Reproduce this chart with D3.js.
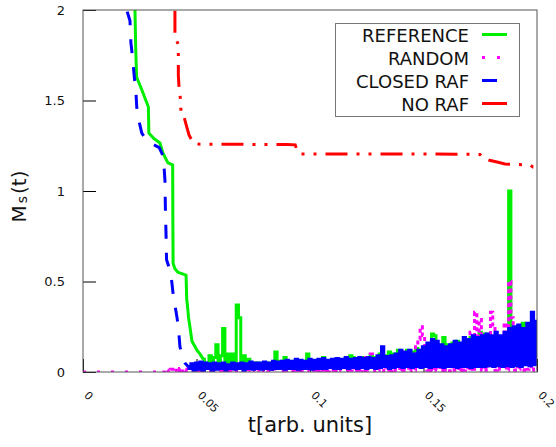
<!DOCTYPE html>
<html><head><meta charset="utf-8">
<script src="https://cdn.jsdelivr.net/npm/d3@7"></script>
<style>body{margin:0;background:#fff}svg{display:block}</style>
</head><body>
<svg id="c" width="556" height="447"></svg>
<script>
// ---------- data ----------
const seriesNames = ["REFERENCE", "RANDOM", "CLOSED RAF", "NO RAF"];
const seriesColors = ["#00ee00", "#ff00ff", "#0000ff", "#ff0000"];
const xTickValues = [0, 0.05, 0.1, 0.15, 0.2];
const xTickLabels = ["0", "0.05", "0.1", "0.15", "0.2"];
const yTickValues = [0, 0.5, 1, 1.5, 2];
const yTickLabels = ["0", "0.5", "1", "1.5", "2"];
const noiseStep = 0.001;

// REFERENCE (green)
const refHeadT = [0.0225,0.0229,0.0232,0.0236,0.0262,0.0288,0.0289,0.0290,0.0312,0.0339,0.0352,0.0374,0.0395,0.0396,0.0397,0.0405,0.0419,0.0454,0.0457,0.0460,0.0465,0.0471,0.0480,0.0489,0.0502,0.0515,0.0530];
const refHeadY = [2.3,2.0,1.80,1.63,1.55,1.464,1.40,1.32,1.29,1.265,1.21,1.155,1.144,0.80,0.60,0.57,0.55,0.535,0.40,0.37,0.30,0.25,0.17,0.15,0.12,0.10,0.07];
const refNoiseStart = 0.054;
const refNoiseY = [
0.05,0.02,0.09,0.03,0.08,0.15,0.04,0.09,0.24,0.05,0.10,0.04,0.10,0.05,0.37,0.30,0.06,0.09,0.04,0.07,
0.03,0.05,0.02,0.05,0.03,0.045,0.02,0.05,0.03,0.05,0.04,0.11,0.03,0.06,0.04,0.08,0.03,0.05,0.04,0.06,
0.03,0.05,0.04,0.06,0.03,0.10,0.04,0.06,0.03,0.06,0.04,0.05,0.08,0.04,0.06,0.03,0.06,0.04,0.07,0.04,
0.06,0.03,0.07,0.04,0.09,0.08,0.04,0.07,0.03,0.08,0.04,0.07,0.05,0.09,0.04,0.08,0.05,0.10,0.04,0.09,
0.05,0.11,0.04,0.10,0.05,0.12,0.05,0.10,0.06,0.12,0.05,0.11,0.06,0.13,0.05,0.12,0.06,0.14,0.05,0.15,
0.21,0.20,0.06,0.14,0.05,0.19,0.06,0.15,0.05,0.16,0.07,0.17,0.06,0.15,0.07,0.16,0.06,0.19,0.07,0.16,
0.06,0.22,0.07,0.21,0.06,0.18,0.08,0.17,0.06,0.19,0.07,0.18,0.08,0.16,1.00,0.10,0.07,0.20,0.06,0.21,
0.27,0.08,0.20,0.23,0.07,0.22,0.05];

// RANDOM (magenta)
const rndHeadT = [0, 0.010, 0.020, 0.030, 0.035];
const rndHeadY = [0, 0, 0, 0, 0];
const rndNoiseStart = 0.036;
const rndNoiseY = [
0,0.01,0,0.015,0.005,0.01,0,0.02,0.005,0.015,
0.005,0.02,0.005,0.015,0.01,0.02,0.005,0.02,0.01,0.025,
0.005,0.02,0.01,0.025,0.005,0.02,0.01,0.03,0.005,0.025,
0.01,0.03,0.005,0.025,0.01,0.03,0.005,0.03,0.01,0.035,
0.005,0.03,0.01,0.035,0.005,0.03,0.01,0.04,0.005,0.035,
0.01,0.04,0.005,0.04,0.01,0.045,0.005,0.04,0.01,0.05,
0.005,0.045,0.01,0.05,0.005,0.045,0.01,0.055,0.005,0.05,
0.01,0.055,0.005,0.05,0.01,0.06,0.005,0.055,0.01,0.06,
0.005,0.06,0.01,0.065,0.005,0.06,0.01,0.07,0.005,0.08,
0.01,0.10,0.005,0.07,0.01,0.075,0.005,0.07,0.01,0.08,
0.005,0.075,0.01,0.08,0.005,0.085,0.01,0.08,0.005,0.09,
0.01,0.14,0.18,0.25,0.20,0.09,0.01,0.10,0.005,0.11,
0.01,0.10,0.005,0.12,0.01,0.11,0.005,0.13,0.01,0.12,
0.005,0.14,0.01,0.18,0.01,0.22,0.015,0.33,0.20,0.29,
0.01,0.15,0.01,0.18,0.33,0.26,0.01,0.14,0.015,0.16,
0.27,0.01,0.50,0.30,0.01,0.13,0.015,0.14,0.01,0.12,
0.015,0.11,0.01,0.10,0.02];

// CLOSED RAF (blue)
const crHeadT = [0.01894,0.01925,0.0207,0.0211,0.0219,0.0226,0.0233,0.0237,0.0244,0.0259,0.0281,0.0304,0.0336,0.0354,0.0361,0.0363,0.0366,0.0368,0.0376,0.0391,0.0398,0.0413,0.0420,0.0427,0.0439,0.0449,0.0463];
const crHeadY = [2.3,2.0,1.94,1.82,1.73,1.63,1.55,1.46,1.40,1.32,1.28,1.26,1.24,1.19,1.06,0.90,0.75,0.62,0.59,0.50,0.42,0.31,0.25,0.14,0.08,0.05,0.03];
const crNoiseStart = 0.047;
const crNoiseY = [
0.02,0.045,0.01,0.05,0.015,0.055,0.01,0.05,0.02,0.045,
0.01,0.05,0.015,0.045,0.02,0.05,0.01,0.04,0.02,0.05,
0.015,0.045,0.02,0.05,0.01,0.045,0.02,0.055,0.015,0.05,
0.02,0.05,0.015,0.055,0.02,0.05,0.015,0.06,0.02,0.055,
0.02,0.06,0.015,0.065,0.02,0.06,0.02,0.07,0.015,0.065,
0.02,0.06,0.02,0.07,0.015,0.065,0.02,0.07,0.02,0.075,
0.02,0.065,0.025,0.07,0.02,0.075,0.02,0.07,0.025,0.08,
0.02,0.07,0.025,0.075,0.02,0.08,0.025,0.075,0.02,0.08,
0.025,0.075,0.02,0.09,0.025,0.14,0.03,0.085,0.02,0.09,
0.025,0.10,0.03,0.12,0.025,0.11,0.03,0.12,0.025,0.10,
0.03,0.12,0.025,0.14,0.03,0.16,0.025,0.18,0.03,0.17,
0.03,0.15,0.025,0.14,0.03,0.15,0.03,0.17,0.025,0.16,
0.03,0.19,0.03,0.18,0.025,0.20,0.03,0.19,0.03,0.20,
0.03,0.21,0.035,0.20,0.03,0.22,0.035,0.20,0.03,0.22,
0.035,0.24,0.03,0.25,0.035,0.26,0.03,0.24,0.04,0.27,
0.035,0.33,0.04,0.28];

// NO RAF (red)
const nrT = [0.0404,0.0405,0.0405,0.0420,0.0420,0.0423,0.0430,0.0432,0.0445,0.0457,0.0467,0.0485,0.0515,0.0600,0.0700,0.0800,0.0900,0.0935,0.0945,0.0955,0.1100,0.1300,0.1500,0.1650,0.1749,0.1762,0.1790,0.1824,0.1859,0.1969,0.1982,0.2000];
const nrY = [2.3,2.0,1.85,1.81,1.64,1.575,1.50,1.42,1.41,1.354,1.31,1.265,1.258,1.258,1.258,1.257,1.257,1.255,1.215,1.205,1.205,1.205,1.205,1.203,1.202,1.182,1.170,1.160,1.149,1.144,1.133,1.133];

// ---------- drawing ----------
const svg = d3.select("#c");
const L = 83, T = 10, R = 537, B = 372;
const x = d3.scaleLinear().domain([0, 0.2]).range([L, R]);
const y = d3.scaleLinear().domain([0, 2]).range([B, T]);
const font = "DejaVu Sans, Verdana, sans-serif";

const pairs = (ts, ys) => ts.map((t, i) => [t, ys[i]]);
const noise = (start, ys) => ys.map((v, i) => [start + i * noiseStep, v]);
const line = d3.line().x(d => x(d[0])).y(d => y(d[1]));
const stepLine = d3.line().x(d => x(d[0])).y(d => y(d[1])).curve(d3.curveStep);

svg.append("defs").append("clipPath").attr("id", "clip")
  .append("rect").attr("x", L).attr("y", T).attr("width", R - L).attr("height", B - T);

// axes
const yAx = svg.append("g").attr("transform", `translate(${L},0)`)
  .call(d3.axisLeft(y).tickValues(yTickValues).tickFormat((d, i) => yTickLabels[i]).tickSize(-13).tickPadding(18));
yAx.select(".domain").remove();
yAx.selectAll("text").attr("font-family", font).attr("font-size", 13).attr("fill", "#111");
yAx.selectAll("line").attr("stroke", "#000");

const xAx = svg.append("g").attr("transform", `translate(0,${B})`)
  .call(d3.axisBottom(x).tickValues(xTickValues).tickFormat((d, i) => xTickLabels[i]).tickSize(-13));
xAx.select(".domain").remove();
xAx.selectAll("line").attr("stroke", "#000");
xAx.selectAll("text").attr("font-family", font).attr("font-size", 11).attr("fill", "#111")
  .attr("y", 0).attr("dy", 0).attr("x", 0).attr("text-anchor", "start")
  .attr("transform", "translate(0,24) rotate(45)");

// data
const plot = svg.append("g").attr("clip-path", "url(#clip)").attr("fill", "none")
  .attr("stroke-width", 3);

const refHead = pairs(refHeadT, refHeadY);
plot.append("path").attr("d", line(refHead)).attr("stroke", seriesColors[0]).attr("stroke-linejoin", "round");
plot.append("path").attr("d", stepLine([refHead[refHead.length-1]].concat(noise(refNoiseStart, refNoiseY))))
  .attr("stroke", seriesColors[0]);

plot.append("path").attr("d", line(pairs(rndHeadT, rndHeadY))).attr("stroke", seriesColors[1])
  .attr("stroke-dasharray", "3,11");
plot.append("path").attr("d", stepLine([[rndHeadT[rndHeadT.length-1], rndHeadY[rndHeadY.length-1]]].concat(noise(rndNoiseStart, rndNoiseY))))
  .attr("stroke", seriesColors[1]).attr("stroke-dasharray", "4,3");

const crHead = pairs(crHeadT, crHeadY);
plot.append("path").attr("d", line(crHead)).attr("stroke", seriesColors[2]).attr("stroke-dasharray", "14,14");
plot.append("path").attr("d", stepLine([crHead[crHead.length-1]].concat(noise(crNoiseStart, crNoiseY))))
  .attr("stroke", seriesColors[2]);

plot.append("path").attr("d", line(pairs(nrT, nrY))).attr("stroke", seriesColors[3])
  .attr("stroke-dasharray", "22,9,3,9,3,9");

// frame
svg.append("rect").attr("x", L).attr("y", T).attr("width", R - L).attr("height", B - T)
  .attr("fill", "none").attr("stroke", "#555").attr("stroke-width", 1);

// legend
const lg = svg.append("g");
lg.append("rect").attr("x", 335.5).attr("y", 23.5).attr("width", 184).attr("height", 93)
  .attr("fill", "#fff").attr("stroke", "#777").attr("stroke-width", 1);
const legendDash = [null, "3,12", "15,12", "25,10"];
seriesNames.forEach((name, i) => {
  const yy = 42 + i * 23;
  lg.append("text").attr("x", 469).attr("y", yy).attr("text-anchor", "end")
    .attr("font-family", font).attr("font-size", 18).attr("fill", "#111").text(name);
  lg.append("line").attr("x1", 482).attr("x2", 507).attr("y1", yy - 7.5).attr("y2", yy - 7.5)
    .attr("stroke", seriesColors[i]).attr("stroke-width", 3)
    .attr("stroke-dasharray", legendDash[i]);
});

// axis titles
const yl = svg.append("text").attr("transform", "translate(25.5,222.5) rotate(-90)")
  .attr("font-family", font).attr("font-size", 20).attr("fill", "#111");
yl.append("tspan").text("M");
yl.append("tspan").attr("font-size", 14).attr("dx", 2).attr("dy", 1).text("s");
yl.append("tspan").attr("dx", 2).attr("dy", -1).text("(t)");

svg.append("text").attr("x", 310).attr("y", 432).attr("text-anchor", "middle")
  .attr("font-family", font).attr("font-size", 21).attr("fill", "#111").text("t[arb. units]");
</script>
</body></html>
